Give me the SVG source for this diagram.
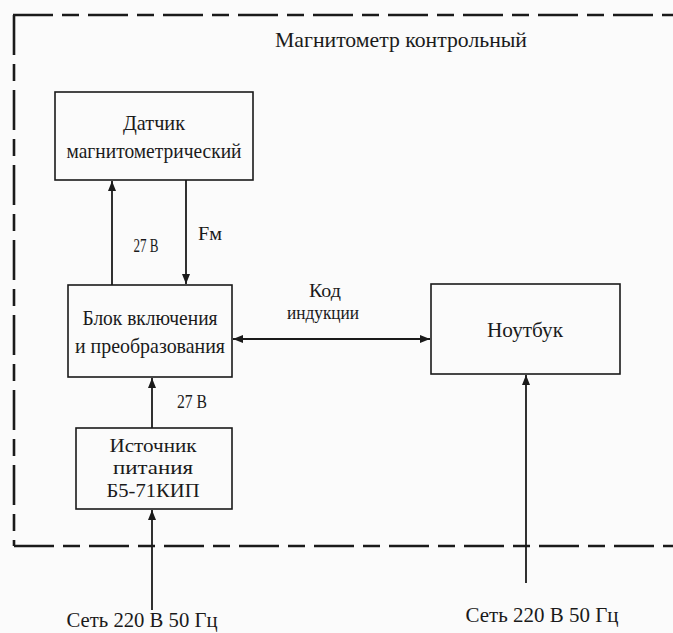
<svg xmlns="http://www.w3.org/2000/svg" width="673" height="633" viewBox="0 0 673 633">
<style>
.bg{fill:#fbfbfb}
.box{fill:#fbfbfb;stroke:#1a1a1a;stroke-width:1.6}
.frame{stroke:#1a1a1a;stroke-width:2.6;stroke-dasharray:40 9 17 9;fill:none}
.conn{stroke:#1a1a1a;stroke-width:1.8;fill:none}
text{font-family:"Liberation Serif","Times New Roman",serif;fill:#1a1a1a;text-anchor:middle}
.h{font-size:22px}
.t{font-size:21px}
.m{font-size:18px}
.s{font-size:18px}
</style>
<defs>
<marker id="ah" viewBox="0 0 10 10" refX="10" refY="5" markerWidth="10" markerHeight="10" markerUnits="userSpaceOnUse" orient="auto-start-reverse">
<path d="M0,1 L10,5 L0,9 Z" fill="#1a1a1a"/>
</marker>
</defs>
<rect class="bg" x="0" y="0" width="673" height="633"/>
<g id="frame">
<line class="frame" x1="13" y1="15" x2="680" y2="15"/>
<line class="frame" x1="14" y1="15" x2="14" y2="546"/>
<line class="frame" x1="14" y1="546" x2="680" y2="546"/>
<text class="h" x="401" y="47" textLength="252" lengthAdjust="spacingAndGlyphs">Магнитометр контрольный</text>
</g>
<g id="connectors">
<line class="conn" x1="112" y1="285" x2="112" y2="181" marker-end="url(#ah)"/>
<line class="conn" x1="186" y1="180" x2="186" y2="284" marker-end="url(#ah)"/>
<line class="conn" x1="233" y1="339" x2="430" y2="339" marker-start="url(#ah)" marker-end="url(#ah)"/>
<line class="conn" x1="152" y1="428" x2="152" y2="378" marker-end="url(#ah)"/>
<line class="conn" x1="152" y1="610" x2="152" y2="510" marker-end="url(#ah)"/>
<line class="conn" x1="526" y1="583" x2="526" y2="375" marker-end="url(#ah)"/>
<text class="s" x="146" y="252" textLength="25" lengthAdjust="spacingAndGlyphs">27 В</text>
<text class="s" x="210" y="240" textLength="24" lengthAdjust="spacingAndGlyphs">Fм</text>
<text class="s" x="325" y="297" textLength="32" lengthAdjust="spacingAndGlyphs">Код</text>
<text class="s" x="323" y="319" textLength="72" lengthAdjust="spacingAndGlyphs">индукции</text>
<text class="s" x="192" y="408" textLength="30" lengthAdjust="spacingAndGlyphs">27 В</text>
<text class="t" x="142" y="627" textLength="151" lengthAdjust="spacingAndGlyphs">Сеть 220 В 50 Гц</text>
<text class="t" x="542" y="622" textLength="153" lengthAdjust="spacingAndGlyphs">Сеть 220 В 50 Гц</text>
</g>
<g id="datchik">
<rect class="box" x="55" y="92" width="198" height="88"/>
<text class="t" x="154" y="130" textLength="62" lengthAdjust="spacingAndGlyphs">Датчик</text>
<text class="t" x="154" y="158" textLength="175" lengthAdjust="spacingAndGlyphs">магнитометрический</text>
</g>
<g id="blok">
<rect class="box" x="68" y="285" width="164" height="92"/>
<text class="t" x="150" y="325" textLength="135" lengthAdjust="spacingAndGlyphs">Блок включения</text>
<text class="t" x="150" y="353" textLength="150" lengthAdjust="spacingAndGlyphs">и преобразования</text>
</g>
<g id="noutbuk">
<rect class="box" x="431" y="284" width="189" height="90"/>
<text class="t" x="525" y="337" textLength="76" lengthAdjust="spacingAndGlyphs">Ноутбук</text>
</g>
<g id="istochnik">
<rect class="box" x="76" y="428" width="156" height="81"/>
<text class="m" x="153" y="452" textLength="87" lengthAdjust="spacingAndGlyphs">Источник</text>
<text class="m" x="153" y="474" textLength="80" lengthAdjust="spacingAndGlyphs">питания</text>
<text class="m" x="153" y="497" textLength="93" lengthAdjust="spacingAndGlyphs">Б5-71КИП</text>
</g>
</svg>
